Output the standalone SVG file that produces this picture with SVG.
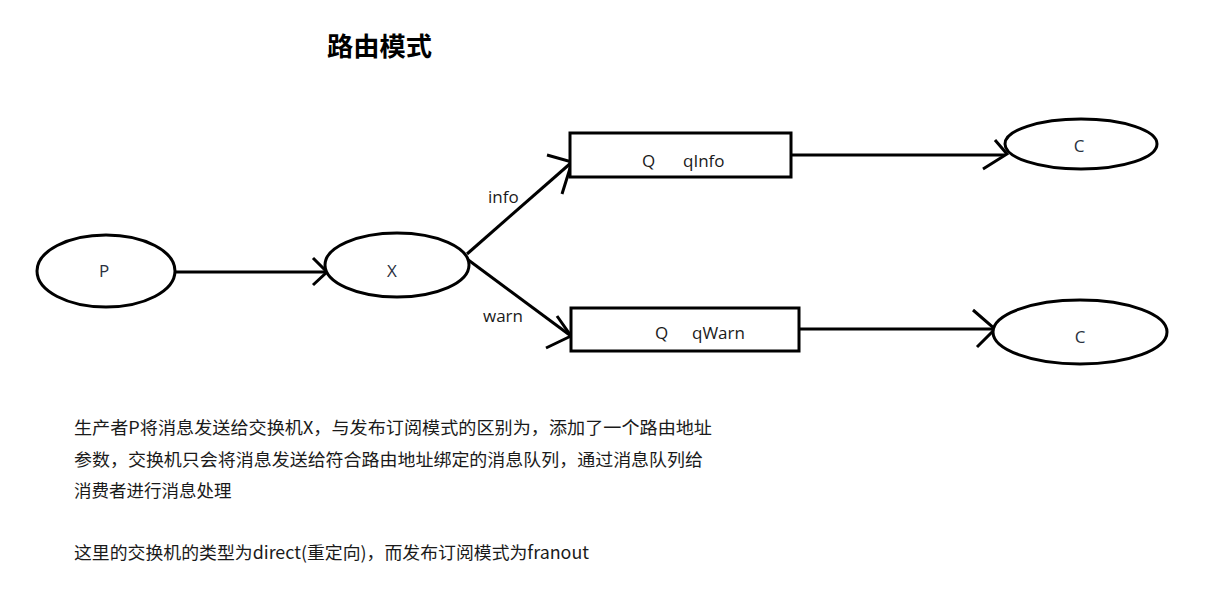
<svg xmlns="http://www.w3.org/2000/svg" width="1221" height="597" viewBox="0 0 1221 597">
  <style>
    .shape { fill: #ffffff; stroke: #000000; stroke-width: 3; }
    .edge { fill: none; stroke: #000000; stroke-width: 3; }
    .lbl { font-family: "Open Sans", "Liberation Sans", "Noto Sans CJK SC", sans-serif; font-size: 17px; fill: #1a1a1a; }
    .node { font-family: "Open Sans", "Liberation Sans", sans-serif; font-size: 17px; fill: #2a3040; text-anchor: middle; }
    .title { font-family: "Noto Sans CJK SC", sans-serif; font-size: 26px; font-weight: bold; fill: #000000; }
    .para { font-family: "Noto Sans CJK SC", sans-serif; font-size: 17.5px; fill: #1a1a1a; }
  </style>

  <rect width="1221" height="597" fill="#ffffff"/>

  <text class="title" x="327" y="56" textLength="105" lengthAdjust="spacingAndGlyphs">路由模式</text>

  <!-- connectors -->
  <g id="connectors">
    <!-- P -> X -->
    <path class="edge" d="M175 272 H327"/>
    <path class="edge" d="M313 258 L327 272 L313 285"/>
    <!-- X -> qInfo -->
    <path class="edge" d="M467 254 L572 162"/>
    <path class="edge" d="M547 155 L572 162 L562 194"/>
    <text class="lbl" x="488" y="203">info</text>
    <!-- X -> qWarn -->
    <path class="edge" d="M467 259 L571 336"/>
    <path class="edge" d="M557 316 L571 336 L546 348"/>
    <text class="lbl" x="483" y="322">warn</text>
    <!-- qInfo -> C -->
    <path class="edge" d="M791 155 H1005"/>
    <path class="edge" d="M995 140 L1007 154 L983 169"/>
    <!-- qWarn -> C -->
    <path class="edge" d="M799 329 H995"/>
    <path class="edge" d="M973 310 L995 329 L977 347"/>
  </g>

  <g id="node-p">
    <ellipse class="shape" cx="106" cy="271" rx="69" ry="36"/>
    <text class="node" x="104" y="277">P</text>
  </g>

  <g id="node-x">
    <ellipse class="shape" cx="397" cy="265" rx="72" ry="32"/>
    <text class="node" x="392" y="277">X</text>
  </g>

  <g id="node-qinfo">
    <rect class="shape" x="570" y="133" width="221" height="44"/>
    <text class="lbl" x="642" y="167">Q</text>
    <text class="lbl" x="683" y="167">qInfo</text>
  </g>

  <g id="node-qwarn">
    <rect class="shape" x="571" y="308" width="228" height="43"/>
    <text class="lbl" x="655" y="339">Q</text>
    <text class="lbl" x="692" y="339">qWarn</text>
  </g>

  <g id="node-c1">
    <ellipse class="shape" cx="1081" cy="144" rx="76" ry="25"/>
    <text class="node" x="1079" y="152">C</text>
  </g>

  <g id="node-c2">
    <ellipse class="shape" cx="1080" cy="332" rx="87" ry="32"/>
    <text class="node" x="1080" y="343">C</text>
  </g>

  <!-- description -->
  <text class="para" x="74" y="434" textLength="638" lengthAdjust="spacingAndGlyphs">生产者P将消息发送给交换机X，与发布订阅模式的区别为，添加了一个路由地址</text>
  <text class="para" x="74" y="466" textLength="629" lengthAdjust="spacingAndGlyphs">参数，交换机只会将消息发送给符合路由地址绑定的消息队列，通过消息队列给</text>
  <text class="para" x="74" y="497">消费者进行消息处理</text>
  <text class="para" x="74" y="559" textLength="515" lengthAdjust="spacingAndGlyphs">这里的交换机的类型为direct(重定向)，而发布订阅模式为franout</text>
</svg>
